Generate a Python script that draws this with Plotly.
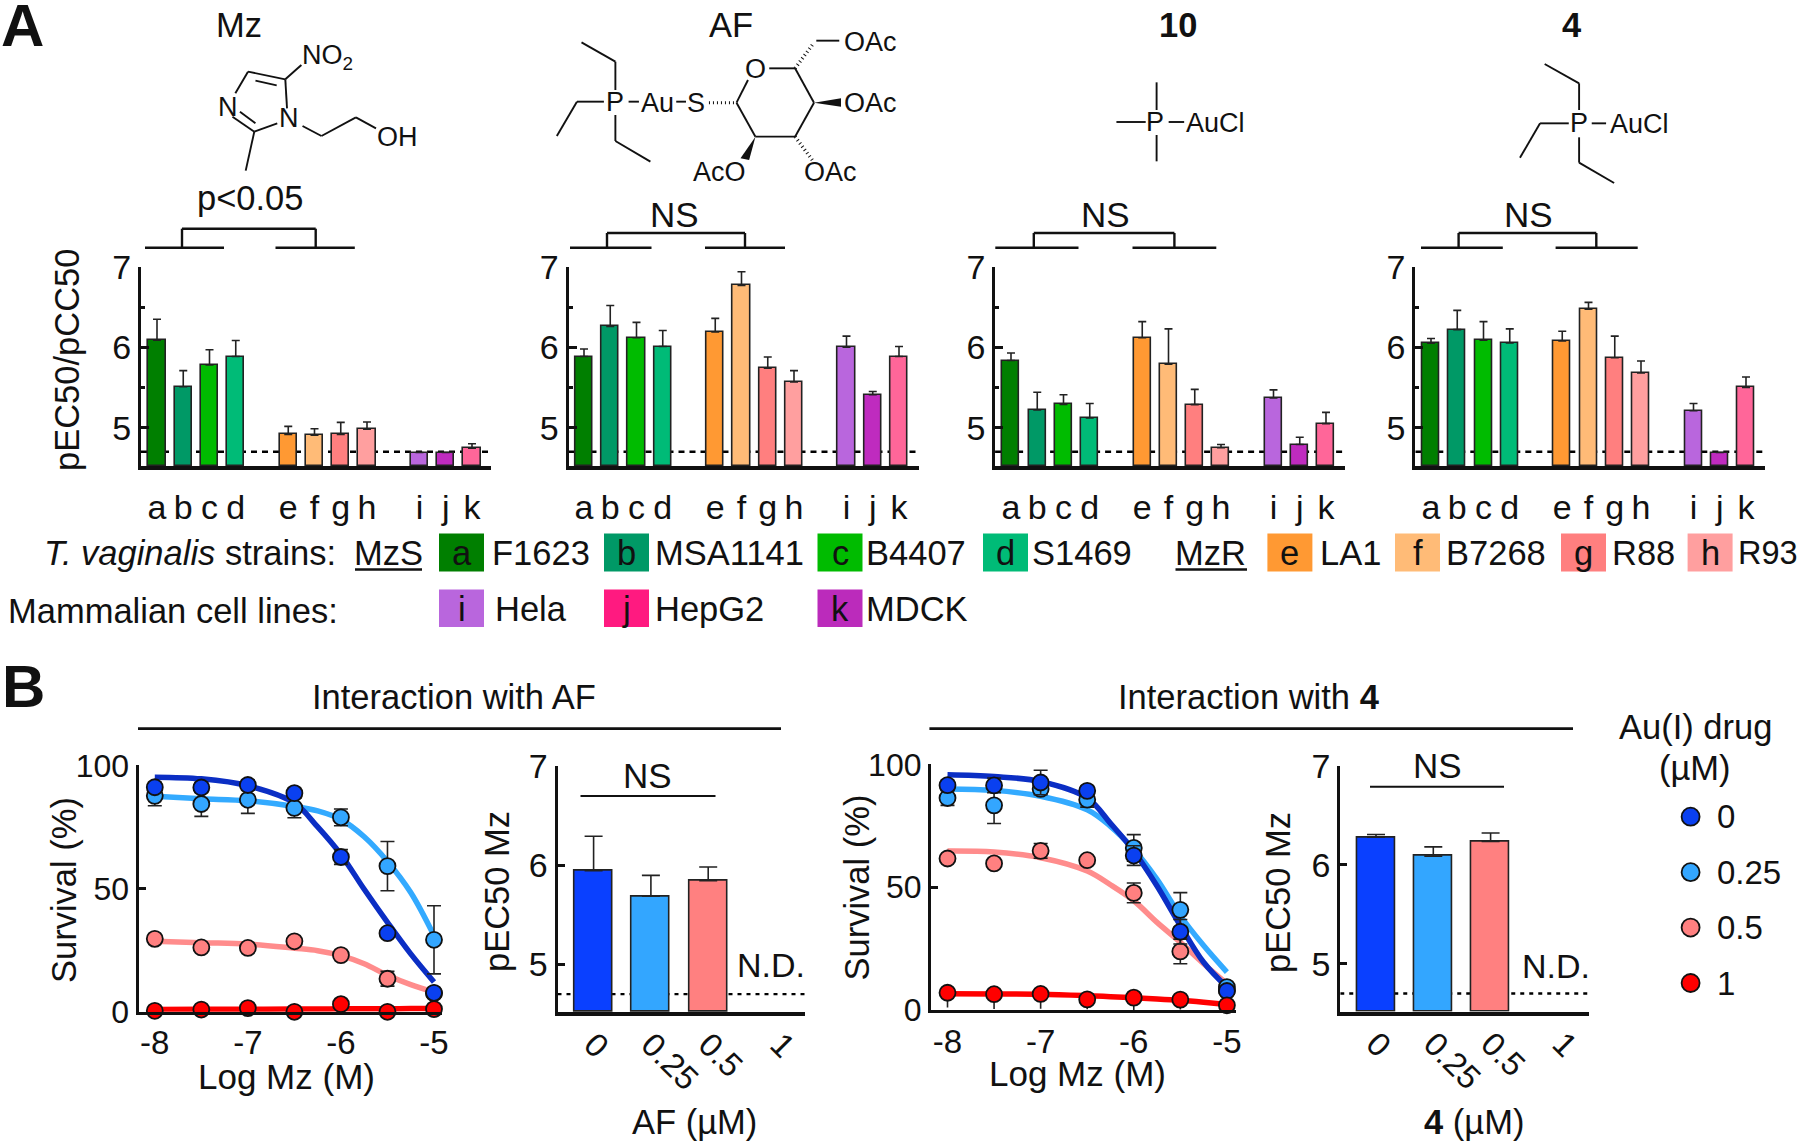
import plotly.graph_objects as go

W, H = 1800, 1142
FONT = "Liberation Sans"
INK = "#111111"
T = 34.5

# ---------- data ----------
strain_labels = list("abcdefghijk")
strain_pos = [0, 1, 2, 3, 5, 6, 7, 8, 10, 11, 12]
strain_colors = ["#007F00", "#009966", "#00BB00", "#00BB77", "#FF9933", "#FFBB77",
                 "#FF7F7F", "#FF9F9F", "#B966DD", "#BF2BBF", "#FF6699"]

mz_val = [6.09, 5.51, 5.78, 5.885, 4.916, 4.907, 4.916, 4.98, 4.69, 4.69, 4.745]
mz_err = [0.26, 0.20, 0.19, 0.20, 0.10, 0.08, 0.15, 0.09, 0, 0, 0.055]
af_val = [5.885, 6.26, 6.12, 6.01, 6.19, 6.77, 5.74, 5.57, 6.0, 5.41, 5.885]
af_err = [0.095, 0.26, 0.19, 0.20, 0.17, 0.17, 0.14, 0.14, 0.14, 0.04, 0.125]
c10_val = [5.835, 5.22, 5.29, 5.12, 6.12, 5.79, 5.286, 4.75, 5.37, 4.79, 5.05]
c10_err = [0.095, 0.22, 0.12, 0.18, 0.20, 0.44, 0.19, 0.04, 0.10, 0.09, 0.14]
c4_val = [6.05, 6.22, 6.09, 6.055, 6.08, 6.475, 5.87, 5.68, 5.21, 4.69, 5.5]
c4_err = [0.06, 0.24, 0.23, 0.175, 0.12, 0.085, 0.27, 0.15, 0.09, 0, 0.13]
limit_line = 4.7

log_mz = [-8, -7.5, -7, -6.5, -6, -5.5, -5]
dose_labels = ["0", "0.25", "0.5", "1"]
marker_colors = ["#0A40F0", "#33A6FF", "#FF8080", "#FF0000"]
curve_colors = ["#0B2EC4", "#33AAFF", "#FF8C8C", "#FF0000"]

af_surv_0 = [91.1, 91, 92, 88.7, 62.8, 31.9, 7.7]
af_surv_025 = [87.6, 84.3, 86, 82.7, 78.9, 59.1, 29.2]
af_surv_05 = [29.6, 26.1, 25.9, 28.6, 23, 13.4, 7.5]
af_surv_1 = [0.4, 0.9, 1.5, 0, 3.1, 0, 1.1]
af_serr_0 = [2, 2, 2, 2, 3, 1, 1]
af_serr_025 = [4, 5, 5.5, 4, 3.4, 10, 13.8]
af_serr_05 = [0, 0, 0, 0, 0, 3, 0]
af_serr_1 = [0, 0, 0, 0, 0, 0, 0]

curve_x = [-8, -7.5, -7, -6.5, -6.25, -6, -5.75, -5.5, -5.25, -5]
af_curve_0 = [95.2, 94.5, 91.7, 84.7, 75, 63.8, 49.7, 36.3, 23.5, 12.1]
af_curve_025 = [87.4, 86.4, 85.6, 83.3, 81.5, 78, 71, 61, 48.4, 30.9]
af_curve_05 = [28.6, 28, 27.5, 25.8, 24.8, 22.8, 19.5, 14.8, 11, 8]
af_curve_1 = [0.9, 1.0, 1.0, 1.1, 1.1, 1.2, 1.2, 1.2, 1.3, 1.3]

c4_surv_0 = [91.5, 91.4, 92.6, 89.2, 62.9, 31.9, 7.8]
c4_surv_025 = [86.3, 83.3, 90, 85.6, 66, 40.8, 9.4]
c4_surv_05 = [61.7, 59.7, 64.8, 61, 47.7, 23.9, 8]
c4_surv_1 = [7.1, 6.5, 6.6, 4.4, 5.1, 4.3, 2]
c4_serr_0 = [2, 3, 5, 2, 4, 5, 1]
c4_serr_025 = [3, 7.4, 2, 3, 5.4, 7, 1]
c4_serr_05 = [1, 1, 3, 1, 4, 5, 1]
c4_serr_1 = [6, 6, 6, 4, 5, 4, 1]

c4_curve_0 = [95.7, 95, 93, 86.3, 76, 64.7, 50.5, 34.4, 19.5, 9.4]
c4_curve_025 = [90, 89.4, 87, 81.5, 74.8, 65.4, 53.2, 38.4, 26.3, 15.5]
c4_curve_05 = [64.7, 64.3, 62, 56.6, 51, 44.5, 35.7, 27.6, 18.9, 10.8]
c4_curve_1 = [6.7, 6.6, 6.5, 5.9, 5.5, 5.1, 4.6, 4, 3.2, 2.3]

af_pec = [5.943, 5.685, 5.842]
af_pec_err = [0.347, 0.211, 0.138]
c4_pec = [6.278, 6.087, 6.235]
c4_pec_err = [0.027, 0.093, 0.085]
pec_colors = ["#0A40FF", "#33A6FF", "#FF8080"]

legend_a_row1 = [("a", "F1623", "#007F00"), ("b", "MSA1141", "#009966"), ("c", "B4407", "#00BB00"),
                 ("d", "S1469", "#00BB77"), ("e", "LA1", "#FF9933"), ("f", "B7268", "#FFBB77"),
                 ("g", "R88", "#FF7F7F"), ("h", "R93", "#FF9F9F")]
legend_a_row2 = [("i", "Hela", "#B966DD"), ("j", "HepG2", "#FF1A80"), ("k", "MDCK", "#BB2BBB")]

# ---------- pixel helpers (page furniture only) ----------
px = lambda x: x / W
py = lambda y: 1 - y / H
annotations, shapes = [], []


def text(x, y, s, size=T, xanchor="center", angle=0, color=INK):
    annotations.append(dict(x=px(x), y=py(y), xref="paper", yref="paper", text=s, showarrow=False,
                            xanchor=xanchor, yanchor="middle", textangle=angle, borderpad=0, borderwidth=0,
                            font=dict(family=FONT, size=size, color=color)))


def seg(x0, y0, x1, y1, width=2.0, color=INK, dash="solid"):
    shapes.append(dict(type="line", xref="paper", yref="paper", x0=px(x0), y0=py(y0), x1=px(x1), y1=py(y1),
                       line=dict(color=color, width=width, dash=dash)))


def polyline(points, width=2.0):
    for (a, b), (c, d) in zip(points[:-1], points[1:]):
        seg(a, b, c, d, width)


def wedge(tip, b1, b2):
    path = f"M{px(tip[0])},{py(tip[1])} L{px(b1[0])},{py(b1[1])} L{px(b2[0])},{py(b2[1])} Z"
    shapes.append(dict(type="path", xref="paper", yref="paper", path=path, fillcolor=INK, line=dict(width=0)))


fig = go.Figure()
layout_axes = {}
axis_count = 0


def new_axes(x0, x1, y_top, y_bot, xrange, yrange, xopts, yopts, lw_x=0.0, lw_y=0.0):
    """x0 / y_bot are the centres of the drawn axis lines. Plotly draws its lines outside the
    domain, so the domain is pulled in by half a line width and the range follows it."""
    global axis_count
    axis_count += 1
    n = "" if axis_count == 1 else str(axis_count)
    per_x = (xrange[1] - xrange[0]) / (x1 - x0)
    per_y = (yrange[1] - yrange[0]) / (y_bot - y_top)
    xr = [xrange[0] + per_x * lw_y / 2, xrange[1]]
    yr = [yrange[0] + per_y * lw_x / 2, yrange[1]]
    base = dict(showgrid=False, zeroline=False, showline=True, linecolor=INK, ticks="", fixedrange=True)
    layout_axes["xaxis" + n] = dict(base, domain=[px(x0 + lw_y / 2), px(x1)], range=xr, anchor="y" + n, **xopts)
    layout_axes["yaxis" + n] = dict(base, domain=[py(y_bot - lw_x / 2), py(y_top)], range=yr, anchor="x" + n, **yopts)
    return "x" + n, "y" + n, xr


# ---------- panel A bars ----------
panels_a = [(139.5, 157.0, mz_val, mz_err), (567.0, 584.0, af_val, af_err),
            (993.6, 1011.0, c10_val, c10_err), (1413.8, 1431.0, c4_val, c4_err)]
STEP = 26.25
for axis_px, first_px, vals, errs in panels_a:
    right = axis_px + 351.5
    xr0 = [(axis_px - first_px) / STEP, (right - first_px) / STEP]
    xa, ya, xr = new_axes(axis_px, right, 267, 467.8, xr0, [4.5, 7],
                          dict(tickvals=strain_pos, ticktext=strain_labels, linewidth=3.5, ticklen=0,
                               ticklabelstandoff=8, tickangle=0, tickfont=dict(family=FONT, size=34, color=INK)),
                          dict(tickvals=[5, 6, 7], ticks="inside", ticklen=8, tickwidth=3, tickcolor=INK, linewidth=3,
                               minor=dict(tickvals=[5.5, 6.5], ticks="inside", ticklen=4, tickwidth=2.5, tickcolor=INK),
                               tickfont=dict(family=FONT, size=34, color=INK)),
                          lw_x=3.5, lw_y=3)
    shapes.append(dict(type="line", xref=xa, yref=ya, x0=xr[0], x1=xr[1], y0=limit_line, y1=limit_line,
                       layer="below", line=dict(color="#000000", width=2.6, dash="6px,5px")))
    fig.add_trace(go.Bar(x=strain_pos, y=[v - 4.52 for v in vals], base=4.52, width=0.65, xaxis=xa, yaxis=ya,
                         marker=dict(color=strain_colors, line=dict(color="#222222", width=1.6)),
                         error_y=dict(type="data", symmetric=False, array=errs, arrayminus=[0] * len(errs),
                                      color="#222222", thickness=1.6, width=4),
                         showlegend=False))


# ---------- panel B ----------
def survival(axis_px, right, y_top, y_bot, xr0, curves, points, errors):
    # the value axis keeps its lower bound of exactly 0, so the domain ends just above the line centre
    xa, ya, _ = new_axes(axis_px, right, y_top, y_bot - 1.5, xr0, [0, 100],
                         dict(tickvals=[-8, -7, -6, -5], ticktext=["-8", "-7", "-6", "-5"], linewidth=3, ticklen=0,
                              ticklabelstandoff=0, tickfont=dict(family=FONT, size=33, color=INK)),
                         dict(tickvals=[0, 50, 100], ticks="inside", ticklen=7, tickwidth=3, tickcolor=INK, linewidth=3,
                              tickfont=dict(family=FONT, size=32, color=INK)),
                         lw_y=3)
    for i in [2, 1, 0, 3]:
        fig.add_trace(go.Scatter(x=curve_x, y=curves[i], mode="lines", xaxis=xa, yaxis=ya, cliponaxis=False,
                                 line=dict(color=curve_colors[i], width=5.5, shape="spline"), showlegend=False))
    for i in [2, 1, 0, 3]:
        is_red = i == 3  # the red series shows only its lower whisker, without a cap
        err = dict(type="data", symmetric=False, array=[0] * 7 if is_red else errors[i], arrayminus=errors[i],
                   color="#222222", thickness=1.6, width=0 if is_red else 7)
        fig.add_trace(go.Scatter(x=log_mz, y=points[i], mode="markers", xaxis=xa, yaxis=ya, cliponaxis=False,
                                 marker=dict(color=marker_colors[i], size=16, line=dict(color=INK, width=1.8)),
                                 error_y=err, showlegend=False))


def pec_bars(axis_px, right, first_px, vals, errs, y_bot):
    spacing = 57.3
    xr0 = [(axis_px - first_px) / spacing, (right - first_px) / spacing]
    xa, ya, xr = new_axes(axis_px, right, 765.7, y_bot, xr0, [4.5, 7],
                          dict(tickvals=[0, 1, 2, 3.25], ticktext=dose_labels, linewidth=3.5, ticklen=0, tickangle=45,
                               ticklabelstandoff=-4, tickfont=dict(family=FONT, size=33, color=INK)),
                          dict(tickvals=[5, 6, 7], ticks="inside", ticklen=7, tickwidth=3, tickcolor=INK, linewidth=3,
                               tickfont=dict(family=FONT, size=34, color=INK)),
                          lw_x=3.5, lw_y=3)
    shapes.append(dict(type="line", xref=xa, yref=ya, x0=xr[0], x1=xr[1], y0=limit_line, y1=limit_line,
                       layer="below", line=dict(color="#000000", width=2.4, dash="4px,5px")))
    fig.add_trace(go.Bar(x=[0, 1, 2], y=[v - 4.52 for v in vals], base=4.52, width=0.66, xaxis=xa, yaxis=ya,
                         marker=dict(color=pec_colors, line=dict(color="#222222", width=1.6)),
                         error_y=dict(type="data", symmetric=False, array=errs, arrayminus=[0, 0, 0],
                                      color="#222222", thickness=1.6, width=9),
                         showlegend=False))


survival(137, 442, 765.3, 1013.3, [-8 - 17.8 / 93.1, -5 + 8 / 93.1],
         [af_curve_0, af_curve_025, af_curve_05, af_curve_1],
         [af_surv_0, af_surv_025, af_surv_05, af_surv_1],
         [af_serr_0, af_serr_025, af_serr_05, af_serr_1])
pec_bars(556, 805.4, 593.6, af_pec, af_pec_err, 1014)
survival(929.4, 1235.6, 764.3, 1011.7, [-8 - 18.1 / 93.1, -5 + 8.7 / 93.1],
         [c4_curve_0, c4_curve_025, c4_curve_05, c4_curve_1],
         [c4_surv_0, c4_surv_025, c4_surv_05, c4_surv_1],
         [c4_serr_0, c4_serr_025, c4_serr_05, c4_serr_1])
pec_bars(1338.75, 1588.75, 1376, c4_pec, c4_pec_err, 1013.3)

# legend of panel B, on its own hidden axes
xa, ya, _ = new_axes(1660, 1720, 816.7, 983, [0, 1], [3, 0], dict(visible=False), dict(visible=False))
for i, lab in enumerate(dose_labels):
    fig.add_trace(go.Scatter(x=[0.51], y=[i], mode="markers", xaxis=xa, yaxis=ya, cliponaxis=False, showlegend=False,
                             marker=dict(color=marker_colors[i], size=18, line=dict(color=INK, width=1.8))))
for y, lab in zip([816.7, 872, 927.7, 983], dose_labels):
    text(1717, y, lab, 33, "left")
text(1695, 727, "Au(I) drug")
text(1695, 768, "(µM)")

# ---------- panel letters and titles ----------
text(22, 26, "<b>A</b>", 60)
text(23, 686, "<b>B</b>", 60)
text(239, 25, "Mz")
text(731, 25, "AF")
text(1178, 25, "<b>10</b>")
text(1571.6, 25, "<b>4</b>")
text(250, 198, "p&lt;0.05")
text(674.5, 214, "NS", 35)
text(1105, 214, "NS", 35)
text(1528.6, 214, "NS", 35)
text(67, 360, "pEC50/pCC50", T, angle=-90)

for lo1, lo2, lo3, lo4, up1, up2, top in [
    (145, 224, 275.5, 354.8, 182, 315.7, 228.7),
    (570, 651.5, 705, 785, 607, 745, 233),
    (995.3, 1078.5, 1132.5, 1216.3, 1033.8, 1174.4, 233),
    (1421, 1502.8, 1555.6, 1637.7, 1458.6, 1596.3, 233),
]:
    seg(lo1, 247.7, lo2, 247.7, 2.6)
    seg(lo3, 247.7, lo4, 247.7, 2.6)
    polyline([(up1, 247.7), (up1, top), (up2, top), (up2, 247.7)], 2.4)

# ---------- strain key ----------
row1_x = [439, 604, 817.5, 983, 1267.4, 1395, 1561, 1687.6]
row1_lab = [492, 655, 866, 1032, 1320, 1446, 1612, 1738]
row2_x = [439, 604, 817.5]
row2_lab = [495, 655, 866]
for items, xs, labs, top, bot, cy in [(legend_a_row1, row1_x, row1_lab, 533.5, 571.5, 553),
                                      (legend_a_row2, row2_x, row2_lab, 589.5, 627, 609)]:
    for (letter, name, col), x, lab in zip(items, xs, labs):
        shapes.append(dict(type="rect", xref="paper", yref="paper", x0=px(x), x1=px(x + 45), y0=py(bot), y1=py(top),
                           fillcolor=col, line=dict(width=0)))
        text(x + 22.5, cy, letter)
        text(lab, cy, name, 32.5 if name == "R93" else T, "left")
text(44, 553, "<i>T. vaginalis</i> strains:", T, "left")
text(8, 611, "Mammalian cell lines:", T, "left")
text(354, 553, "MzS", T, "left")
text(1174.5, 553, "MzR", T, "left")
seg(355, 569.5, 422, 569.5, 2.6)
seg(1175.5, 569.5, 1247, 569.5, 2.6)

# ---------- panel B furniture ----------
text(454, 696.7, "Interaction with AF")
text(1248, 696.7, "Interaction with <b>4</b>")
seg(138, 728.7, 781, 728.7, 2.8)
seg(929.4, 728.7, 1573, 728.7, 2.8)
text(286, 1076, "Log Mz (M)", 35)
text(1077.5, 1073, "Log Mz (M)", 35)
text(64, 890, "Survival (%)", T, angle=-90)
text(856.5, 888, "Survival (%)", T, angle=-90)
text(497, 891, "pEC50 Mz", T, angle=-90)
text(1278, 893, "pEC50 Mz", T, angle=-90)
text(771.4, 965, "N.D.", 34)
text(1556, 966, "N.D.", 34)
text(647.5, 775, "NS", 35)
text(1437, 765.7, "NS", 35)
seg(580.5, 796, 715.5, 796, 2)
seg(1370, 786.7, 1504, 786.7, 2)
text(694.5, 1121.7, "AF (µM)")
text(1474, 1121.7, "<b>4</b> (µM)")


# ---------- chemical structures (zoom-crop coordinates converted to page pixels) ----------
def z1(x, y):
    return (x / 1.742, y / 3)


def z2(x, y):
    return (900 + x / 1.742, y / 3)


def zline(f, pts, width=1.9):
    polyline([f(*p) for p in pts], width)


S = 27
# metronidazole
zline(z1, [(410, 280), (432, 215), (497, 238), (500, 325)])
zline(z1, [(445, 242), (482, 256)])
zline(z1, [(483, 370), (443, 395), (405, 350)])
zline(z1, [(445, 370), (418, 335)])
zline(z1, [(497, 238), (525, 195)])
zline(z1, [(443, 395), (428, 512)])
zline(z1, [(527, 378), (560, 408), (620, 352), (655, 385)])
text(*z1(526, 170), "NO<sub>2</sub>", S, "left")
text(*z1(398, 320), "N", S)
text(*z1(503, 355), "N", S)
text(*z1(693, 412), "OH", S)

# auranofin
text(*z1(1072, 305), "P", S)
text(*z1(1145, 308), "Au", S)
text(*z1(1213, 308), "S", S)
zline(z1, [(1095, 305), (1113, 305)])
zline(z1, [(1178, 305), (1195, 305)])
zline(z1, [(1072, 270), (1072, 185), (1013, 127)])
zline(z1, [(1052, 305), (1005, 305), (970, 408)])
zline(z1, [(1072, 345), (1072, 423), (1133, 485)])
zline(z1, [(1303, 240), (1283, 308), (1316, 410), (1385, 410), (1418, 308), (1385, 205), (1340, 205)])
text(*z1(1316, 207), "O", S)
seg(*z1(1235, 308), *z1(1283, 308), 3, INK, "1px,3px")
seg(*z1(1385, 205), *z1(1418, 128), 3.5, INK, "1px,3px")
zline(z1, [(1422, 122), (1462, 122)])
seg(*z1(1385, 410), *z1(1415, 480), 3.5, INK, "1px,3px")
wedge(z1(1418, 308), z1(1465, 295), z1(1465, 320))
wedge(z1(1316, 410), z1(1290, 475), z1(1305, 480))
text(*z1(1516, 125), "OAc", S)
text(*z1(1516, 310), "OAc", S)
text(*z1(1253, 517), "AcO", S)
text(*z1(1447, 517), "OAc", S)

# compound 10
text(*z2(445, 367), "P", S)
text(*z2(550, 370), "AuCl", S)
zline(z2, [(447, 247), (447, 330)])
zline(z2, [(447, 405), (447, 484)])
zline(z2, [(377, 366), (428, 366)])
zline(z2, [(468, 366), (495, 366)])

# compound 4
text(*z2(1183, 370), "P", S)
text(*z2(1288, 373), "AuCl", S)
zline(z2, [(1183, 330), (1183, 250), (1123, 192)])
zline(z2, [(1165, 370), (1115, 370), (1080, 473)])
zline(z2, [(1183, 412), (1183, 488), (1244, 549)])
zline(z2, [(1205, 370), (1230, 370)])

fig.update_layout(width=W, height=H, margin=dict(l=0, r=0, t=0, b=0, autoexpand=False), autosize=False,
                  paper_bgcolor="white", plot_bgcolor="rgba(0,0,0,0)", bargap=0, showlegend=False,
                  font=dict(family=FONT, size=33, color=INK),
                  annotations=annotations, shapes=shapes, **layout_axes)

fig.write_html("out.html", config=dict(displayModeBar=False, responsive=False),
               post_script="document.body.style.margin='0';document.body.style.overflow='hidden';")
